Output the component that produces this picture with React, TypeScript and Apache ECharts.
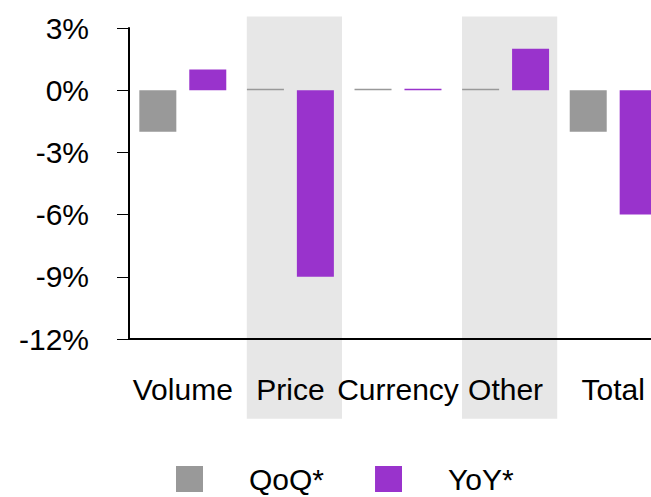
import React, { useEffect, useRef } from "react";
import * as echarts from "echarts";

const categories = ["Volume", "Price", "Currency", "Other", "Total"];
const qoqValues = [-2, 0, 0, 0, -2];
const yoyValues = [1, -9, 0, 2, -6];
const shadedCategories = ["Price", "Other"];
const bandTop = 3.55;
const bandBottom = -15.85;
const yMin = -12;
const yMax = 3;
const yInterval = 3;

const FONT = "'Liberation Sans', Arial, sans-serif";

export default function App() {
  const ref = useRef<HTMLDivElement>(null);
  useEffect(() => {
    if (!ref.current) return;
    const chart = echarts.init(ref.current, null, { renderer: "svg" });
    chart.setOption({
      animation: false,
      backgroundColor: "#ffffff",
      textStyle: { fontFamily: FONT },
      grid: {
        left: 129,
        top: 28,
        right: -16,
        bottom: 158,
        containLabel: false,
        outerBoundsMode: "none",
      },
      legend: {
        data: ["QoQ*", "YoY*"],
        left: 176,
        top: 464,
        padding: 0,
        icon: "rect",
        itemWidth: 27,
        itemHeight: 26,
        itemGap: 51,
        textStyle: {
          fontFamily: FONT,
          fontSize: 30,
          lineHeight: 30,
          color: "#000",
          padding: [0, 0, 0, 41],
        },
      },
      xAxis: {
        type: "category",
        data: categories,
        z: 10,
        axisLine: { onZero: false, lineStyle: { color: "#000", width: 2 } },
        axisTick: {
          alignWithLabel: true,
          length: 13,
          lineStyle: { color: "#333", width: 1 },
        },
        axisLabel: {
          fontFamily: FONT,
          fontSize: 30,
          color: "#000",
          margin: 35,
          interval: 0,
        },
        splitLine: { show: false },
      },
      yAxis: {
        type: "value",
        min: yMin,
        max: yMax,
        interval: yInterval,
        z: 10,
        axisLine: { show: true, lineStyle: { color: "#000", width: 2 } },
        axisTick: { show: true, length: 12, lineStyle: { color: "#000", width: 1 } },
        axisLabel: {
          fontFamily: FONT,
          fontSize: 30,
          color: "#000",
          margin: 40,
          formatter: (v: number) => `${v}%`,
        },
        splitLine: { show: false },
      },
      series: [
        {
          type: "custom",
          name: "bands",
          z: 0,
          clip: false,
          silent: true,
          data: shadedCategories.map((c) => [c]),
          encode: { x: 0 },
          renderItem: (params: any, api: any) => {
            const idx = api.value(0);
            const top = api.coord([idx, bandTop]);
            const bottom = api.coord([idx, bandBottom]);
            const bw = api.size([1, 0])[0];
            const w = bw * 0.885;
            return {
              type: "rect",
              shape: {
                x: top[0] - w / 2 + 4,
                y: top[1],
                width: w,
                height: bottom[1] - top[1],
              },
              style: { fill: "#e7e7e7" },
            };
          },
        },
        {
          type: "bar",
          name: "QoQ*",
          data: qoqValues,
          barWidth: 37,
          barGap: "35%",
          barMinHeight: 1.5,
          z: 5,
          itemStyle: { color: "#999999" },
        },
        {
          type: "bar",
          name: "YoY*",
          data: yoyValues,
          barWidth: 37,
          barGap: "35%",
          barMinHeight: 1.5,
          z: 5,
          itemStyle: { color: "#9933cc" },
        },
      ],
    });
    return () => chart.dispose();
  }, []);
  return (
    <div
      ref={ref}
      style={{ position: "fixed", left: 0, top: 0, width: 651, height: 497 }}
    />
  );
}
